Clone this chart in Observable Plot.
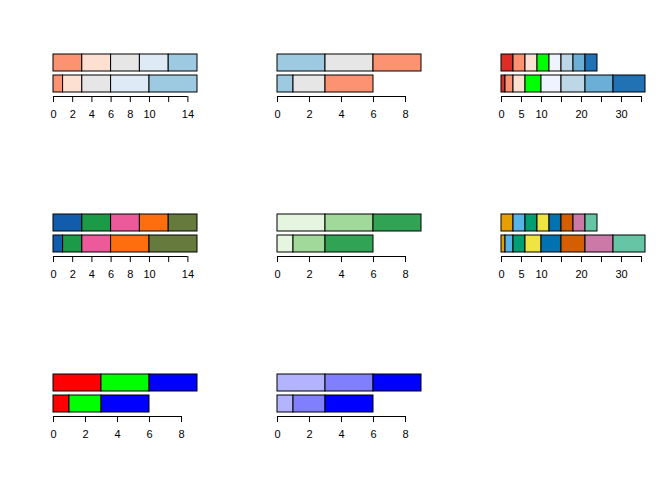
<!DOCTYPE html>
<html><head><meta charset="utf-8">
<script src="https://cdn.jsdelivr.net/npm/d3@7"></script>
<script src="https://cdn.jsdelivr.net/npm/@observablehq/plot@0.6"></script>
<style>
body{margin:0;background:#fff;}
#grid{position:relative;width:672px;height:480px;background:#fff;}
.panel{position:absolute;width:224px;height:160px;}
</style></head><body><div id="grid"></div>
<script>
// Palettes (left to right, top to bottom)
const colorsRdBu5 = ["#FC9272", "#FEE0D2", "#E6E6E6", "#DEEBF7", "#9ECAE1"];
const colorsBuRd3 = ["#9ECAE1", "#E6E6E6", "#FC9272"];
const colorsMix8 = ["#DE2D26", "#FC9272", "#FEE0D2", "#00FF00", "#EFF3FF", "#BDD7E7", "#6BAED6", "#2171B5"];
const colorsBold5 = ["#125CAE", "#1B9A48", "#EC5A9C", "#FF6E0E", "#677A3E"];
const colorsGreens3 = ["#E5F5E0", "#A1D99B", "#31A354"];
const colorsOkabe8 = ["#E69F00", "#56B4E9", "#009E73", "#F0E442", "#0072B2", "#D55E00", "#CC79A7", "#66C5A5"];
const colorsRGB3 = ["#FF0000", "#00FF00", "#0000FF"];
const colorsBlue3 = ["#B3B3FF", "#8080FF", "#0000FF"];

// Segment widths: top bar equal, bottom bar proportional
const widthsTop3 = [3, 3, 3];
const widthsBottom3 = [1, 2, 3];
const widthsTop5 = [3, 3, 3, 3, 3];
const widthsBottom5 = [1, 2, 3, 4, 5];
const widthsTop8 = [3, 3, 3, 3, 3, 3, 3, 3];
const widthsBottom8 = [1, 2, 3, 4, 5, 6, 7, 8];

// Axis ticks and the labels actually printed
const ticks9 = [0, 2, 4, 6, 8];
const labels9 = [0, 2, 4, 6, 8];
const ticks15 = [0, 2, 4, 6, 8, 10, 12, 14];
const labels15 = [0, 2, 4, 6, 8, 10, 14];
const ticks36 = [0, 5, 10, 15, 20, 25, 30, 35];
const labels36 = [0, 5, 10, 20, 30];

const panels = [
  {colors: colorsRdBu5, top: widthsTop5, bottom: widthsBottom5, ticks: ticks15, labels: labels15},
  {colors: colorsBuRd3, top: widthsTop3, bottom: widthsBottom3, ticks: ticks9, labels: labels9},
  {colors: colorsMix8, top: widthsTop8, bottom: widthsBottom8, ticks: ticks36, labels: labels36},
  {colors: colorsBold5, top: widthsTop5, bottom: widthsBottom5, ticks: ticks15, labels: labels15},
  {colors: colorsGreens3, top: widthsTop3, bottom: widthsBottom3, ticks: ticks9, labels: labels9},
  {colors: colorsOkabe8, top: widthsTop8, bottom: widthsBottom8, ticks: ticks36, labels: labels36},
  {colors: colorsRGB3, top: widthsTop3, bottom: widthsBottom3, ticks: ticks9, labels: labels9},
  {colors: colorsBlue3, top: widthsTop3, bottom: widthsBottom3, ticks: ticks9, labels: labels9}
];

const grid = document.getElementById("grid");
const W = 224, H = 160, ML = 53, MR = 27, MT = 53, MB = 64;

panels.forEach((p, k) => {
  const segs = [];
  for (const [row, widths] of [["top", p.top], ["bottom", p.bottom]]) {
    let acc = 0;
    widths.forEach((w, i) => { segs.push({row, x1: acc, x2: acc + w, color: p.colors[i]}); acc += w; });
  }
  const total = Math.max(d3.sum(p.top), d3.sum(p.bottom));
  const plot = Plot.plot({
    width: W, height: H,
    marginLeft: ML, marginRight: MR, marginTop: MT, marginBottom: MB,
    x: {domain: [0, total], axis: null},
    y: {domain: ["top", "bottom"], range: [53.5, 93.5], paddingInner: 0.18, paddingOuter: 0, axis: null},
    color: {type: "identity"},
    style: {fontFamily: "'Liberation Sans', Arial, sans-serif", fontSize: "11px", color: "black", background: "white", overflow: "visible"},
    marks: [
      Plot.barX(segs, {x1: "x1", x2: "x2", y: "row", fill: "color", stroke: "black", strokeWidth: 1}),
      Plot.axisX({anchor: "bottom", ticks: p.ticks, tickSize: 6, tickPadding: 8,
        tickFormat: d => p.labels.includes(d) ? String(d) : "", stroke: "black", fill: "black"})
    ]
  });
  const xs = plot.scale("x");
  d3.select(plot).append("line")
    .attr("x1", xs.apply(p.ticks[0])).attr("x2", xs.apply(p.ticks[p.ticks.length - 1]))
    .attr("y1", H - MB + 0.5).attr("y2", H - MB + 0.5)
    .attr("stroke", "black").attr("stroke-width", 1);
  const div = document.createElement("div");
  div.className = "panel";
  div.style.left = (k % 3) * W + "px";
  div.style.top = Math.floor(k / 3) * H + "px";
  div.appendChild(plot);
  grid.appendChild(div);
});
</script></body></html>
